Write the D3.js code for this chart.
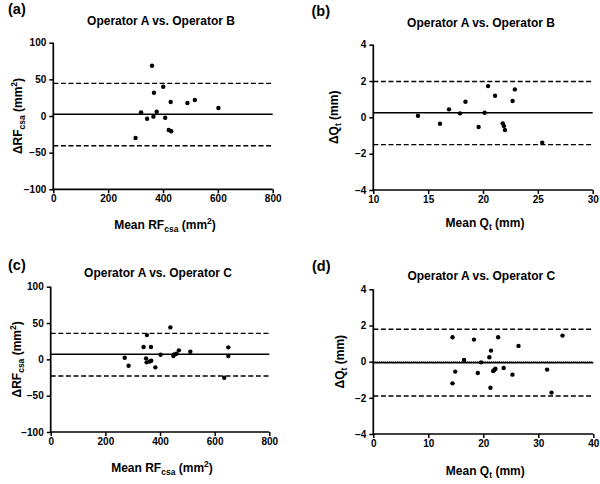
<!DOCTYPE html>
<html>
<head>
<meta charset="utf-8">
<script src="https://cdn.jsdelivr.net/npm/d3@7"></script>
<style>
  html, body { margin: 0; padding: 0; background: #fff; }
  svg { display: block; font-family: "Liberation Sans", Arial, sans-serif; }
</style>
</head>
<body>
<svg id="chart" width="600" height="484"></svg>
<script>
// ---------------- DATA ----------------
const panelLetters = ["(a)", "(b)", "(c)", "(d)"];
const panelTitles = ["Operator A vs. Operator B", "Operator A vs. Operator B",
                     "Operator A vs. Operator C", "Operator A vs. Operator C"];

// (a) RFcsa, A vs B
const aMean = [360, 401, 367, 428, 489, 516, 602, 320, 377, 342, 365, 408, 421, 430, 300];
const aDiff = [68.6, 40, 31.8, 19.1, 17.7, 21.8, 10.9, 5, 5.9, -3.7, -0.9, -2.3, -19.1, -20.9, -30];
const aLines = [2.3, 44.5, -40.5]; // bias, upper LoA, lower LoA

// (b) Qt, A vs B
const bMean = [14.07, 16.08, 16.9, 17.9, 18.4, 19.6, 20.15, 20.46, 21.1, 21.8, 21.9, 22.0, 22.7, 22.9, 25.4];
const bDiff = [0.09, -0.35, 0.44, 0.22, 0.86, -0.53, 0.25, 1.72, 1.19, -0.33, -0.47, -0.70, 0.9, 1.54, -1.39];
const bLines = [0.25, 1.97, -1.50];

// (c) RFcsa, A vs C
const cMean = [438, 352, 340, 367, 271, 285, 349, 351, 362, 368, 383, 402, 449, 452, 460, 469, 511, 635, 650, 650];
const cDiff = [44, 33.4, 16.9, 16.9, 2.2, -8.8, 1.4, -4.1, -3, -1.9, -11, 6.4, 4.5, 6.9, 7.7, 12.4, 10.5, -25.3, 16.5, 4.5];
const cLines = [7.0, 35.8, -23];

// (d) Qt, A vs C
const dMean = [14.4, 18.3, 22.7, 34.4, 26.4, 21.4, 21.1, 16.5, 19.6, 14.9, 19.0, 21.8, 22.0, 22.2, 23.7, 25.3, 31.6, 14.4, 21.3, 32.4];
const dDiff = [1.35, 1.22, 1.35, 1.44, 0.87, 0.61, 0.24, 0.09, -0.04, -0.55, -0.63, -0.52, -0.46, -0.39, -0.35, -0.72, -0.44, -1.2, -1.44, -1.71];
const dLines = [-0.06, 1.79, -1.90];
const dZero = 0;

// tick values
const rfXTicks = [0, 200, 400, 600, 800];
const rfYTicks = [-100, -50, 0, 50, 100];
const qbXTicks = [10, 15, 20, 25, 30];
const qdXTicks = [0, 10, 20, 30, 40];
const qYTicks = [-4, -2, 0, 2, 4];

// ---------------- DRAW ----------------
const svg = d3.select("#chart");

const panels = [
  { mean: aMean, diff: aDiff, lines: aLines, xd: [0, 800], yd: [-100, 100], xt: rfXTicks, yt: rfYTicks,
    box: [53.3, 272.7, 42.7, 189.3], kind: "rf", letter: [8, 14], titleY: 24.5, xlabY: 229, ylabX: 21.5 },
  { mean: bMean, diff: bDiff, lines: bLines, xd: [10, 30], yd: [-4, 4], xt: qbXTicks, yt: qYTicks,
    box: [373.3, 592.7, 44.7, 190], kind: "q", letter: [311.5, 15.5], titleY: 26.5, xlabY: 227, ylabX: 337.5 },
  { mean: cMean, diff: cDiff, lines: cLines, xd: [0, 800], yd: [-100, 100], xt: rfXTicks, yt: rfYTicks,
    box: [50.7, 269.3, 286.7, 432], kind: "rf", letter: [8, 270], titleY: 277, xlabY: 472, ylabX: 20.5 },
  { mean: dMean, diff: dDiff, lines: dLines, xd: [0, 40], yd: [-4, 4], xt: qdXTicks, yt: qYTicks,
    box: [373.3, 593.3, 289.3, 434], kind: "q", letter: [312, 270.5], titleY: 280, xlabY: 475, ylabX: 344, zero: dZero }
];

panels.forEach((p, i) => {
  const [x0, x1, y0, y1] = p.box;
  const x = d3.scaleLinear().domain(p.xd).range([x0, x1]);
  const y = d3.scaleLinear().domain(p.yd).range([y1, y0]);
  const g = svg.append("g");

  // reference lines
  const lineStyles = [null, "5,2.6", "5,2.6"];
  p.lines.forEach((v, k) => {
    g.append("line")
      .attr("x1", x0).attr("x2", x1)
      .attr("y1", y(v)).attr("y2", y(v))
      .attr("stroke", "#000")
      .attr("stroke-width", k === 0 ? 1.5 : 1.4)
      .attr("stroke-dasharray", lineStyles[k]);
  });
  if (p.zero !== undefined) {
    g.append("line")
      .attr("x1", x0).attr("x2", x1)
      .attr("y1", y(p.zero)).attr("y2", y(p.zero))
      .attr("stroke", "#000").attr("stroke-width", 1)
      .attr("stroke-dasharray", "1,1");
  }

  // axes
  const xAxis = d3.axisBottom(x).tickValues(p.xt).tickSize(4).tickSizeOuter(0).tickPadding(2);
  const yAxis = d3.axisLeft(y).tickValues(p.yt).tickSize(4).tickSizeOuter(0).tickPadding(3);
  const gx = g.append("g").attr("transform", `translate(0,${y1})`).call(xAxis);
  const gy = g.append("g").attr("transform", `translate(${x0},0)`).call(yAxis);
  [gx, gy].forEach(ax => {
    ax.select(".domain").attr("stroke", "#000").attr("stroke-width", 1.7);
    ax.selectAll(".tick line").attr("stroke", "#000").attr("stroke-width", 1.5);
    ax.selectAll(".tick text")
      .attr("fill", "#000")
      .style("font-family", '"Liberation Sans", Arial, sans-serif')
      .style("font-size", "10px").style("font-weight", "bold");
  });
  gx.select(".domain").attr("d", `M${x0 - 0.85},0H${x1}`);
  gy.select(".domain").attr("d", `M0,${y0}V${y1 + 0.85}`);

  // points
  g.selectAll("circle.pt").data(p.mean.map((m, j) => [m, p.diff[j]]))
    .join("circle")
    .attr("class", "pt")
    .attr("cx", d => x(d[0])).attr("cy", d => y(d[1]))
    .attr("r", 2.2).attr("fill", "#000");

  // title
  g.append("text")
    .attr("x", (x0 + x1) / 2 - 2).attr("y", p.titleY)
    .attr("text-anchor", "middle")
    .style("font-size", "12px").style("font-weight", "bold")
    .text(panelTitles[i]);

  // panel letter
  g.append("text")
    .attr("x", p.letter[0]).attr("y", p.letter[1])
    .style("font-size", "14.5px").style("font-weight", "bold")
    .text(panelLetters[i]);

  // x label
  const xl = g.append("text")
    .attr("x", (x0 + x1) / 2 + 2).attr("y", p.xlabY)
    .attr("text-anchor", "middle")
    .style("font-size", "12px").style("font-weight", "bold");
  // y label
  const yl = g.append("text")
    .attr("transform", `translate(${p.ylabX},${(y0 + y1) / 2}) rotate(-90)`)
    .attr("text-anchor", "middle")
    .style("font-size", "12px").style("font-weight", "bold");

  if (p.kind === "rf") {
    xl.append("tspan").text("Mean RF");
    xl.append("tspan").attr("dy", 3).style("font-size", "8.5px").text("csa");
    xl.append("tspan").attr("dy", -3).text(" (mm");
    xl.append("tspan").attr("dy", -5).style("font-size", "8.5px").text("2");
    xl.append("tspan").attr("dy", 5).text(")");

    yl.append("tspan").text("\u0394RF");
    yl.append("tspan").attr("dy", 3).style("font-size", "8.5px").text("csa");
    yl.append("tspan").attr("dy", -3).text(" (mm");
    yl.append("tspan").attr("dy", -5).style("font-size", "8.5px").text("2");
    yl.append("tspan").attr("dy", 5).text(")");
  } else {
    xl.append("tspan").text("Mean Q");
    xl.append("tspan").attr("dy", 3).style("font-size", "8.5px").text("t");
    xl.append("tspan").attr("dy", -3).text(" (mm)");

    yl.append("tspan").text("\u0394Q");
    yl.append("tspan").attr("dy", 3).style("font-size", "8.5px").text("t");
    yl.append("tspan").attr("dy", -3).text(" (mm)");
  }
});
</script>
</body>
</html>
